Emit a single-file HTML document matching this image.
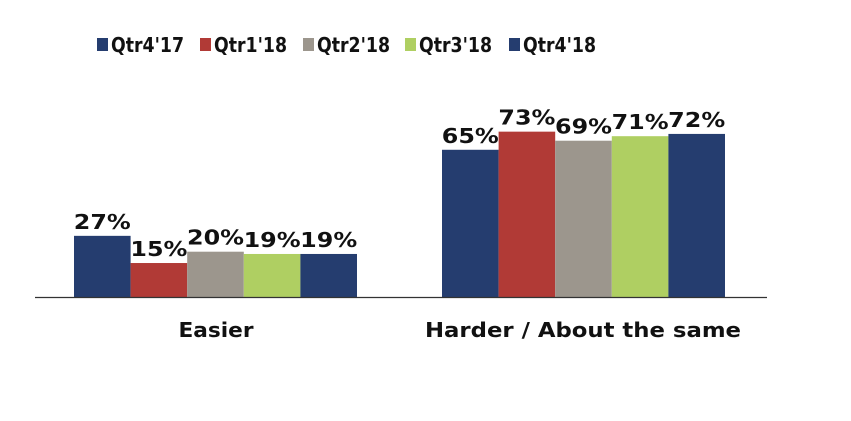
<!DOCTYPE html>
<html><head><meta charset="utf-8"><style>
html,body{margin:0;padding:0;background:#fff;}
svg text{font-family:"DejaVu Sans","Liberation Sans",sans-serif;font-weight:bold;fill:#111;}
</style></head><body>
<svg id="chart" width="851" height="416" viewBox="0 0 851 416" xmlns="http://www.w3.org/2000/svg">
<g id="legend"></g>
<g id="bars"></g>
<line x1="35" y1="297.5" x2="767" y2="297.5" stroke="#333" stroke-width="1.2"/>
<g id="cats"></g>
</svg>
<script>
const categories = ["Easier", "Harder / About the same"];
const seriesNames = ["Qtr4'17", "Qtr1'18", "Qtr2'18", "Qtr3'18", "Qtr4'18"];
const q417 = [27, 65];
const q118 = [15, 73];
const q218 = [20, 69];
const q318 = [19, 71];
const q418 = [19, 72];
const series = [q417, q118, q218, q318, q418];
const colors = ["#253d6f", "#b13a36", "#9c968d", "#afcf62", "#253d6f"];
const NS = "http://www.w3.org/2000/svg";
const baseY = 297, pxPer = 2.265;
const groupStart = [74, 442], barW = 56.6;
function yScale(v){ return baseY - v * pxPer; }
function xScale(g, s){ return groupStart[g] + s * barW; }
const bars = document.getElementById('bars');
series.forEach((vals, s) => {
  vals.forEach((v, g) => {
    const r = document.createElementNS(NS, 'rect');
    r.setAttribute('x', xScale(g, s));
    r.setAttribute('y', yScale(v));
    r.setAttribute('width', barW);
    r.setAttribute('height', baseY - yScale(v));
    r.setAttribute('fill', colors[s]);
    
    
    bars.appendChild(r);
    const t = document.createElementNS(NS, 'text');
    t.setAttribute('x', xScale(g, s) + barW / 2);
    t.setAttribute('y', yScale(v) - 7);
    t.setAttribute('text-anchor', 'middle');
    t.setAttribute('font-size', '20');
    t.setAttribute('textLength', '57');
    t.setAttribute('lengthAdjust', 'spacingAndGlyphs');
    t.textContent = v + '%';
    
    
    bars.appendChild(t);
  });
});
const catX = [216, 583];
const catW = [75, 316];
const cats = document.getElementById('cats');
categories.forEach((c, i) => {
  const t = document.createElementNS(NS, 'text');
  t.setAttribute('x', catX[i]);
  t.setAttribute('y', 337);
  t.setAttribute('text-anchor', 'middle');
  t.setAttribute('font-size', '20');
  t.setAttribute('textLength', catW[i]);
  t.setAttribute('lengthAdjust', 'spacingAndGlyphs');
  t.textContent = c;
  
  
  cats.appendChild(t);
});
const legX = [97, 200, 303, 405, 509];
const legend = document.getElementById('legend');
seriesNames.forEach((n, i) => {
  const r = document.createElementNS(NS, 'rect');
  r.setAttribute('x', legX[i]);
  r.setAttribute('y', 38);
  r.setAttribute('width', 11);
  r.setAttribute('height', 13);
  r.setAttribute('fill', colors[i]);
  
  
  legend.appendChild(r);
  const t = document.createElementNS(NS, 'text');
  t.setAttribute('x', legX[i] + 14);
  t.setAttribute('y', 52);
  t.setAttribute('font-size', '20');
  t.setAttribute('textLength', '73');
  t.setAttribute('lengthAdjust', 'spacingAndGlyphs');
  t.textContent = n;
  
  
  legend.appendChild(t);
});
</script>
</body></html>
